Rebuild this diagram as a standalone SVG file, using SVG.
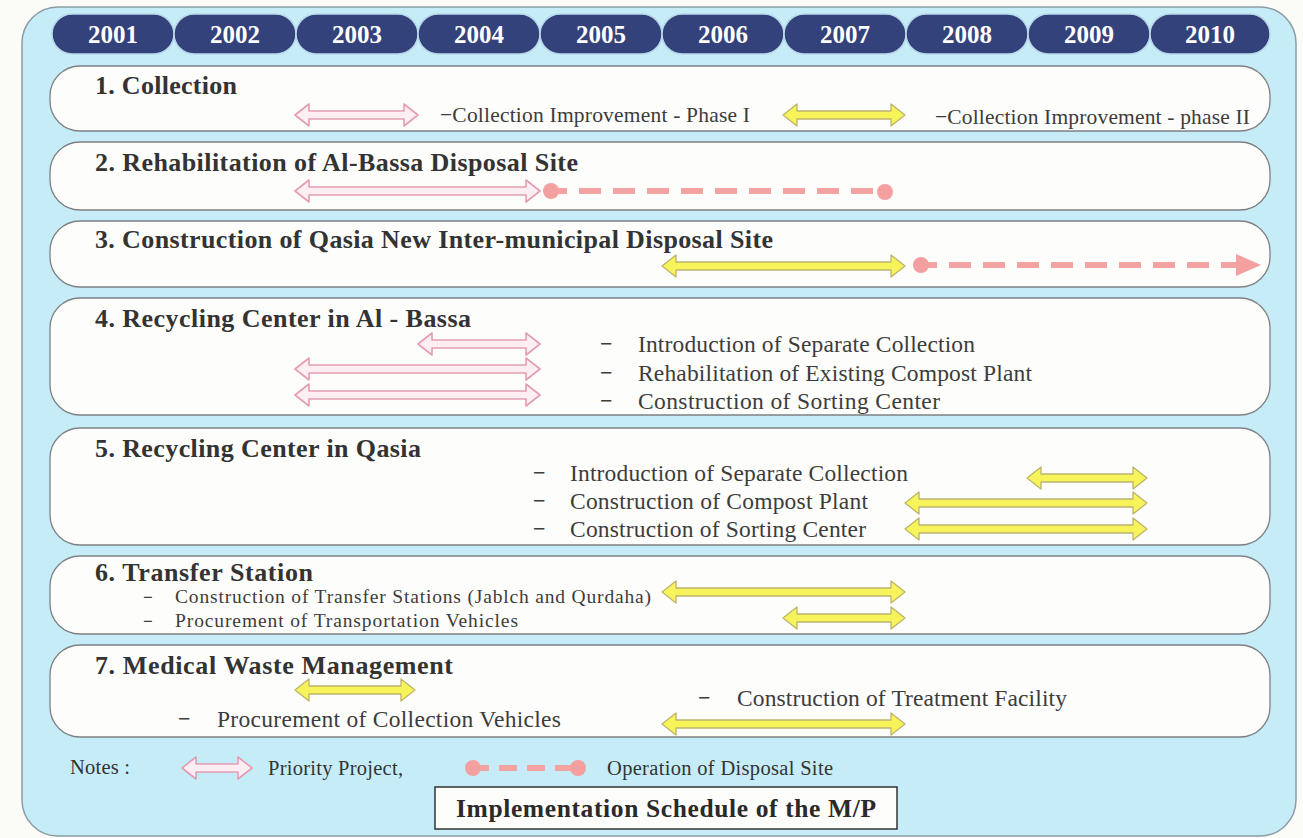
<svg xmlns="http://www.w3.org/2000/svg" width="1303" height="838" viewBox="0 0 1303 838">
  <style>
    .panel { fill: #c6ecf8; stroke: #8c9ca4; stroke-width: 1.5; }
    .pill { fill: #34427c; stroke: #b9d9ea; stroke-width: 1.5; }
    .year { font-family: "Liberation Serif", serif; font-weight: bold; font-size: 25px; fill: #ffffff; text-anchor: middle; }
    .row { fill: #fdfdfb; stroke: #7d8084; stroke-width: 1.3; }
    .head { font-family: "Liberation Serif", serif; font-weight: bold; font-size: 26px; fill: #333333; }
    .sub { font-family: "Liberation Serif", serif; font-size: 23.5px; fill: #3c3c3c; }
    .sub1 { font-family: "Liberation Serif", serif; font-size: 21.5px; fill: #3c3c3c; }
    .sub6 { font-family: "Liberation Serif", serif; font-size: 19.5px; fill: #3c3c3c; }
    .dash { font-family: "Liberation Serif", serif; font-weight: bold; font-size: 22px; fill: #3c3c3c; }
    .note { font-family: "Liberation Serif", serif; font-size: 20.5px; fill: #333333; }
    .title { font-family: "Liberation Serif", serif; font-weight: bold; font-size: 25.5px; fill: #2a2a2a; text-anchor: middle; }
    .prio { fill: #fdeef3; stroke: #e39db1; stroke-width: 1.6; stroke-linejoin: round; }
    .plan { fill: #f7f35a; stroke: #bdb46c; stroke-width: 1.3; stroke-linejoin: round; }
    .op { fill: none; stroke: #f4a3a3; stroke-width: 6; stroke-dasharray: 22 12; stroke-dashoffset: 6; }
    .dot { fill: #f4a0a0; }
  </style>

  <!-- page and light-blue panel -->
  <rect x="0" y="0" width="1303" height="838" fill="#fbfbf7"/>
  <rect class="panel" x="22" y="7" width="1274" height="829" rx="36" ry="36"/>

  <!-- year axis -->
  <g id="years">
    <rect class="pill" x="52" y="14" width="122" height="40" rx="20"/>
    <rect class="pill" x="174" y="14" width="122" height="40" rx="20"/>
    <rect class="pill" x="296" y="14" width="122" height="40" rx="20"/>
    <rect class="pill" x="418" y="14" width="122" height="40" rx="20"/>
    <rect class="pill" x="540" y="14" width="122" height="40" rx="20"/>
    <rect class="pill" x="662" y="14" width="122" height="40" rx="20"/>
    <rect class="pill" x="784" y="14" width="122" height="40" rx="20"/>
    <rect class="pill" x="906" y="14" width="122" height="40" rx="20"/>
    <rect class="pill" x="1028" y="14" width="122" height="40" rx="20"/>
    <rect class="pill" x="1150" y="14" width="120" height="40" rx="20"/>
    <text class="year" x="113" y="43">2001</text>
    <text class="year" x="235" y="43">2002</text>
    <text class="year" x="357" y="43">2003</text>
    <text class="year" x="479" y="43">2004</text>
    <text class="year" x="601" y="43">2005</text>
    <text class="year" x="723" y="43">2006</text>
    <text class="year" x="845" y="43">2007</text>
    <text class="year" x="967" y="43">2008</text>
    <text class="year" x="1089" y="43">2009</text>
    <text class="year" x="1210" y="43">2010</text>
  </g>

  <!-- 1. Collection -->
  <g id="row1">
    <rect class="row" x="50" y="66" width="1220" height="65" rx="30"/>
    <text class="head" x="95" y="94" textLength="142">1. Collection</text>
    <text class="sub1" x="440" y="122" textLength="310">−Collection Improvement - Phase I</text>
    <text class="sub1" x="935" y="124" textLength="315">−Collection Improvement - phase II</text>
  </g>

  <!-- 2. Rehabilitation of Al-Bassa -->
  <g id="row2">
    <rect class="row" x="50" y="142" width="1220" height="68" rx="30"/>
    <text class="head" x="95" y="171" textLength="483">2. Rehabilitation of Al-Bassa Disposal Site</text>
  </g>

  <!-- 3. Qasia disposal site -->
  <g id="row3">
    <rect class="row" x="50" y="221" width="1220" height="66" rx="30"/>
    <text class="head" x="95" y="248" textLength="678">3. Construction of Qasia New Inter-municipal Disposal Site</text>
  </g>

  <!-- 4. Recycling Center in Al-Bassa -->
  <g id="row4">
    <rect class="row" x="50" y="298" width="1220" height="117" rx="30"/>
    <text class="head" x="95" y="327" textLength="376">4. Recycling Center in Al - Bassa</text>
    <text class="dash" x="600" y="351">−</text>
    <text class="sub" x="638" y="352" textLength="337">Introduction of Separate Collection</text>
    <text class="dash" x="600" y="380">−</text>
    <text class="sub" x="638" y="381" textLength="394">Rehabilitation of Existing Compost Plant</text>
    <text class="dash" x="600" y="408">−</text>
    <text class="sub" x="638" y="409" textLength="302">Construction of Sorting  Center</text>
  </g>

  <!-- 5. Recycling Center in Qasia -->
  <g id="row5">
    <rect class="row" x="50" y="428" width="1220" height="117" rx="30"/>
    <text class="head" x="95" y="457" textLength="326">5. Recycling Center in Qasia</text>
    <text class="dash" x="533" y="480">−</text>
    <text class="sub" x="570" y="481" textLength="338">Introduction of Separate Collection</text>
    <text class="dash" x="533" y="508">−</text>
    <text class="sub" x="570" y="509" textLength="298">Construction of Compost Plant</text>
    <text class="dash" x="533" y="536">−</text>
    <text class="sub" x="570" y="537" textLength="296">Construction of Sorting Center</text>
  </g>

  <!-- 6. Transfer Station -->
  <g id="row6">
    <rect class="row" x="50" y="556" width="1220" height="78" rx="30"/>
    <text class="head" x="95" y="581" textLength="218">6. Transfer Station</text>
    <text class="dash" x="143" y="603" style="font-size:17px">−</text>
    <text class="sub6" x="175" y="603" textLength="476">Construction of Transfer Stations (Jablch and Qurdaha)</text>
    <text class="dash" x="143" y="627" style="font-size:17px">−</text>
    <text class="sub6" x="175" y="627" textLength="343">Procurement of Transportation Vehicles</text>
  </g>

  <!-- 7. Medical Waste Management -->
  <g id="row7">
    <rect class="row" x="50" y="645" width="1220" height="92" rx="30"/>
    <text class="head" x="95" y="674" textLength="358">7. Medical Waste Management</text>
    <text class="dash" x="178" y="726">−</text>
    <text class="sub" x="217" y="727" textLength="344">Procurement of Collection Vehicles</text>
    <text class="dash" x="698" y="705">−</text>
    <text class="sub" x="737" y="706" textLength="330">Construction of Treatment Facility</text>
  </g>

  <!-- schedule bars -->
  <g id="bars">
    <!-- priority projects -->
    <path class="prio" d="M295 115 L309 104 L309 111 L404 111 L404 104 L418 115 L404 126 L404 119 L309 119 L309 126 Z"/>
    <path class="prio" d="M295 191 L309 180 L309 187 L526 187 L526 180 L540 191 L526 202 L526 195 L309 195 L309 202 Z"/>
    <path class="prio" d="M418 344 L432 333 L432 340 L526 340 L526 333 L540 344 L526 355 L526 348 L432 348 L432 355 Z"/>
    <path class="prio" d="M295 369 L309 358 L309 365 L526 365 L526 358 L540 369 L526 380 L526 373 L309 373 L309 380 Z"/>
    <path class="prio" d="M295 395 L309 384 L309 391 L526 391 L526 384 L540 395 L526 406 L526 399 L309 399 L309 406 Z"/>
    <!-- other projects -->
    <path class="plan" d="M783 115 L797 104 L797 111 L891 111 L891 104 L905 115 L891 126 L891 119 L797 119 L797 126 Z"/>
    <path class="plan" d="M662 266 L676 255 L676 262 L891 262 L891 255 L905 266 L891 277 L891 270 L676 270 L676 277 Z"/>
    <path class="plan" d="M1027 478 L1041 467 L1041 474 L1133 474 L1133 467 L1147 478 L1133 489 L1133 482 L1041 482 L1041 489 Z"/>
    <path class="plan" d="M905 503 L919 492 L919 499 L1133 499 L1133 492 L1147 503 L1133 514 L1133 507 L919 507 L919 514 Z"/>
    <path class="plan" d="M905 529 L919 518 L919 525 L1133 525 L1133 518 L1147 529 L1133 540 L1133 533 L919 533 L919 540 Z"/>
    <path class="plan" d="M662 592 L676 581 L676 588 L891 588 L891 581 L905 592 L891 603 L891 596 L676 596 L676 603 Z"/>
    <path class="plan" d="M783 618 L797 607 L797 614 L891 614 L891 607 L905 618 L891 629 L891 622 L797 622 L797 629 Z"/>
    <path class="plan" d="M295 690 L309 679 L309 686 L401 686 L401 679 L415 690 L401 701 L401 694 L309 694 L309 701 Z"/>
    <path class="plan" d="M662 724 L676 713 L676 720 L891 720 L891 713 L905 724 L891 735 L891 728 L676 728 L676 735 Z"/>
    <!-- disposal site operation -->
    <line class="op" x1="551" y1="191" x2="880" y2="191"/>
    <circle class="dot" cx="551" cy="191" r="8"/>
    <circle class="dot" cx="885" cy="192" r="8"/>
    <line class="op" x1="921" y1="265" x2="1238" y2="265"/>
    <circle class="dot" cx="921" cy="265" r="8"/>
    <path class="dot" d="M1236 254 L1261 265 L1236 276 Z"/>
  </g>

  <!-- legend -->
  <g id="legend">
    <text class="note" x="70" y="774" textLength="60">Notes :</text>
    <path class="prio" d="M182 768 L196 757 L196 764 L238 764 L238 757 L252 768 L238 779 L238 772 L196 772 L196 779 Z"/>
    <text class="note" x="268" y="775" textLength="135">Priority Project,</text>
    <line class="op" x1="473" y1="768" x2="572" y2="768" style="stroke-dasharray: 18 10; stroke-dashoffset: 2"/>
    <circle class="dot" cx="473" cy="768" r="8"/>
    <circle class="dot" cx="578" cy="768" r="8"/>
    <text class="note" x="607" y="775" textLength="226">Operation of Disposal Site</text>
  </g>

  <!-- caption -->
  <g id="caption">
    <rect x="435" y="787" width="462" height="42" fill="#fdfdfb" stroke="#333333" stroke-width="1.5"/>
    <text class="title" x="666" y="817" textLength="420">Implementation Schedule of the M/P</text>
  </g>
</svg>
